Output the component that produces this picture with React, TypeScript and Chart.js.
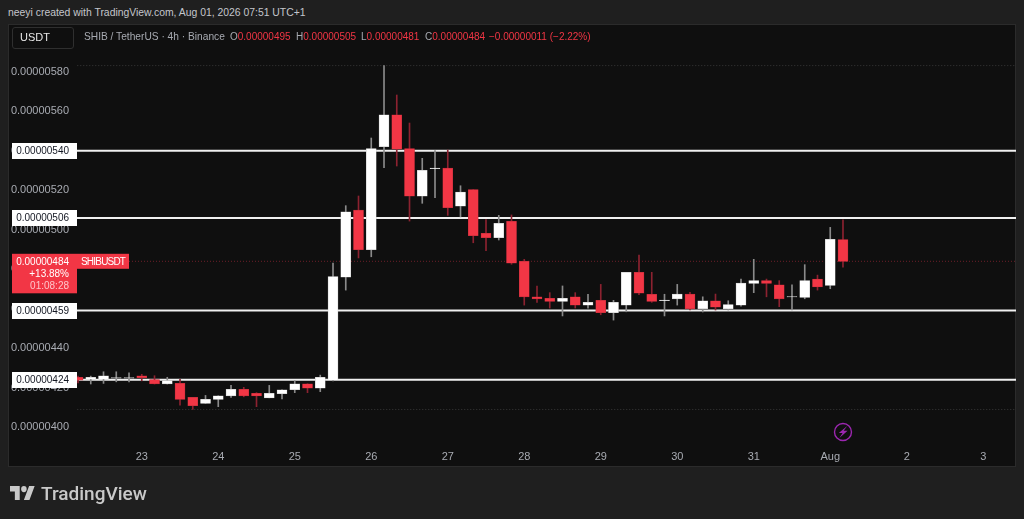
import React, { useEffect, useRef } from "react";
import { Chart, registerables } from "chart.js";

Chart.register(...registerables);

// all prices are in units of 1e-8 USDT
const opens = [425.2,424.2,424.2,424.7,424.7,426,424,421.8,422.1,415,412,414,415.7,419.1,417.1,414.8,416.9,418.9,421.9,419.7,423.8,476,510,489.9,542.1,558.2,541.1,517,530.9,531.3,511.9,520.3,498.2,496,504.3,484,466,465.2,463.7,466,461.7,464.2,457.9,461.7,478.4,467.3,464,464.9,467.4,460,464,459.8,461.7,472.8,474.2,472.1,465.9,465.7,475,471.8,495];
const highs = [425.8,425.8,428,428,427.4,426.7,426,425.2,424.2,415,416,415.8,421.1,420.1,417.4,421.1,418.9,423.4,421.9,426.3,483.1,512.2,517.1,546.5,583.2,568.3,554.1,536.2,540.1,540.4,522.3,520.3,505.1,507.3,507.5,485,471.5,468.1,471.5,468.1,467.3,472.3,464.2,478.4,487.2,478.4,467.3,472.3,468.3,466,467.4,464,475,485,475,474.2,472.1,482.3,477,501.2,505];
const lows = [422.3,421.8,422.1,422.9,422.9,423.4,421.8,421.8,411.1,408.9,412,410.3,415,415.3,410.3,414.8,414.2,417.4,417.4,417.9,423.3,469.4,485.7,486.3,531.5,532.3,504.4,513.4,516.2,507.3,506.5,493.4,489.4,494.8,482.5,461.8,463.2,460.3,456.3,460.3,460.3,456.9,454.2,458.4,467.1,463.2,456.3,461.8,459.3,458.3,459.3,459.3,461.3,468.1,466,461,459.3,465,469.4,470.1,481];
const closes = [423.8,425.2,426,425,425,425,421.8,423.5,414,410.8,414,415.8,419.1,415.7,415.8,417.1,418.9,421.9,419.7,425.2,476.2,509.1,489.9,541.1,558.2,540.9,517,530.1,531.3,511.2,519.1,497,496,503.3,483,465.9,464.9,463.7,465.2,461.8,463.2,457.9,463.2,478.4,467.8,463.7,464.4,467.4,459.8,464,460.8,462,473,474.2,472.8,464.9,466.1,474.2,471,495.2,484];

const priceTicks = [400,420,440,460,480,500,520,540,560,580];
const dayTicks = [5,11,17,23,29,35,41,47,53,59,65,71];
const dayLabels = ["23","24","25","26","27","28","29","30","31","Aug","2","3"];
const levels = [540,506,459,424];
const highLevel = 583.2;
const lowLevel = 408.9;
const lastPrice = 484;
const lastTagLines = ["0.00000484","+13.88%","01:08:28"];
const symbolTag = "SHIBUSDT";
const legendName = "SHIB / TetherUS · 4h · Binance";
const legendOHLC = [["O","0.00000495"],["H","0.00000505"],["L","0.00000481"],["C","0.00000484"]];
const legendChange = "−0.00000011 (−2.22%)";
const createdBy = "neeyi created with TradingView.com, Aug 01, 2026 07:51 UTC+1";

const FONT = '"Liberation Sans", Arial, sans-serif';
const RED = "#f23645";
const fmt = (v: number) => (v / 1e8).toFixed(8);

const overlay = {
  id: "overlay",
  afterDraw(chart: any) {
    const { ctx, scales } = chart;
    const yS = scales.y;
    ctx.save();
    ctx.textBaseline = "middle";
    ctx.font = `10px ${FONT}`;
    for (const l of levels) {
      const y = Math.round(yS.getPixelForValue(l));
      ctx.fillStyle = "#ffffff";
      ctx.fillRect(12, y - 8, 65, 16);
      ctx.fillStyle = "#131722";
      ctx.textAlign = "right";
      ctx.fillText(fmt(l), 69, y + 0.5);
    }
    const py = yS.getPixelForValue(lastPrice);
    ctx.fillStyle = RED;
    ctx.fillRect(12, py - 7.5, 65, 39.5);
    ctx.fillRect(77, py - 7.5, 52, 15);
    ctx.textAlign = "right";
    ctx.fillStyle = "#ffffff";
    ctx.fillText(lastTagLines[0], 69, py + 0.5);
    ctx.fillText(lastTagLines[1], 69, py + 12.5);
    ctx.fillStyle = "#ffc4c9";
    ctx.fillText(lastTagLines[2], 69, py + 25);
    ctx.fillStyle = "#ffffff";
    ctx.textAlign = "left";
    ctx.font = `10px ${FONT}`;
    (ctx as any).letterSpacing = "-0.8px";
    ctx.fillText(symbolTag, 81, py + 0.5);
    (ctx as any).letterSpacing = "0px";
    // purple lightning marker under the last candle
    const mx = scales.x.getPixelForValue(opens.length - 1);
    const my = 432;
    ctx.strokeStyle = "#9c27b0";
    ctx.lineWidth = 1.4;
    ctx.beginPath();
    ctx.arc(mx, my, 8.5, 0, Math.PI * 2);
    ctx.stroke();
    ctx.fillStyle = "#9c27b0";
    ctx.beginPath();
    ctx.moveTo(mx + 4.2, my - 6);
    ctx.lineTo(mx - 4.2, my + 1);
    ctx.lineTo(mx - 0.4, my + 1);
    ctx.lineTo(mx - 3.6, my + 6);
    ctx.lineTo(mx + 4.6, my - 1.2);
    ctx.lineTo(mx + 0.7, my - 1.2);
    ctx.closePath();
    ctx.fill();
    ctx.restore();
  },
};

export default function App() {
  const ref = useRef<HTMLCanvasElement>(null);
  useEffect(() => {
    document.body.style.margin = "0";
    document.body.style.background = "#1f1f1f";
    const idx = opens.map((_, i) => i);
    const isUp = (i: number) => closes[i] >= opens[i];
    const hline = (v: number, color: string, width: number, dash: number[], from = -1) => ({
      type: "line" as const,
      data: [{ x: from, y: v }, { x: 74, y: v }],
      borderColor: color,
      borderWidth: width,
      borderDash: dash,
      pointRadius: 0,
      order: 5,
    });
    const chart = new Chart(ref.current!, {
      type: "bar",
      data: {
        datasets: [
          ...levels.map((l) => hline(l, "#f0f0f0", 2, [])),
          hline(highLevel, "#3a3a3a", 1, [1, 2]),
          hline(lowLevel, "#3a3a3a", 1, [1, 2]),
          hline(lastPrice, "#6e1f2a", 1, [1, 2], 4),
          {
            type: "bar" as const,
            data: idx.map((i) => ({ x: i, y: [lows[i], highs[i]] })),
            backgroundColor: idx.map((i) => (isUp(i) ? "#8a8a8a" : "#8c2230")),
            maxBarThickness: 1,
            grouped: false,
            categoryPercentage: 1,
            barPercentage: 1,
            order: 2,
          },
          {
            type: "bar" as const,
            data: idx.map((i) => ({ x: i, y: [opens[i], closes[i]] })),
            backgroundColor: idx.map((i) => (isUp(i) ? "#ffffff" : RED)),
            borderColor: idx.map((i) => (isUp(i) ? "#bdbdbd" : "#b52c39")),
            borderWidth: 0.5,
            borderSkipped: false,
            maxBarThickness: 10,
            grouped: false,
            categoryPercentage: 1,
            barPercentage: 1,
            order: 1,
          },
        ] as any,
      },
      options: {
        responsive: false,
        animation: false,
        devicePixelRatio: 1,
        layout: { padding: { top: 24, right: 8, bottom: 52, left: 0 }, autoPadding: false },
        plugins: { legend: { display: false }, tooltip: { enabled: false } },
        scales: {
          x: {
            type: "linear",
            offset: false,
            min: -0.08,
            max: 73.57,
            grid: { display: false, drawTicks: false },
            border: { display: false },
            afterBuildTicks: (s: any) => { s.ticks = dayTicks.map((v) => ({ value: v })); },
            afterFit: (s: any) => { s.height = 26; },
            ticks: {
              autoSkip: false,
              maxRotation: 0,
              color: "#a8abb2",
              padding: 9,
              font: { family: FONT, size: 11 },
              callback: (v: any) => dayLabels[dayTicks.indexOf(Number(v))] ?? "",
            },
          },
          y: {
            type: "linear",
            min: 392.9,
            max: 604.3,
            grid: { display: false, drawTicks: false },
            border: { display: false },
            afterBuildTicks: (s: any) => { s.ticks = priceTicks.map((v) => ({ value: v })); },
            afterFit: (s: any) => { s.width = 77; },
            ticks: {
              autoSkip: false,
              color: "#a8abb2",
              padding: 8,
              font: { family: FONT, size: 11 },
              callback: (v: any) => fmt(Number(v)),
            },
          },
        },
      },
      plugins: [overlay],
    } as any);
    return () => chart.destroy();
  }, []);

  const abs = (s: React.CSSProperties): React.CSSProperties => ({
    position: "absolute", whiteSpace: "nowrap", fontFamily: FONT, lineHeight: 1, ...s,
  });

  return (
    <div style={{ position: "relative", width: 1024, height: 519, background: "#1f1f1f", overflow: "hidden" }}>
      <div style={{ position: "absolute", left: 8, top: 24, width: 1008, height: 443, background: "#0f0f0f", boxSizing: "border-box", border: "1px solid #2b2b2b" }} />
      <div style={abs({ left: 8, top: 8, fontSize: 10.4, color: "#c4c6cc" })}>{createdBy}</div>
      <canvas ref={ref} width={1024} height={519} style={{ position: "absolute", left: 0, top: 0, width: 1024, height: 519 }} />
      <div style={{ position: "absolute", left: 12, top: 27, width: 62, height: 22, boxSizing: "border-box", border: "1px solid #2f2f2f", borderRadius: 3, background: "#0f0f0f" }} />
      <div style={abs({ left: 20, top: 32, fontSize: 11, color: "#e6e6e6" })}>USDT</div>
      <div style={abs({ left: 84, top: 32, fontSize: 10.2, color: "#a8abb2" })}>{legendName}</div>
      {legendOHLC.map(([k, v], i) => (
        <div key={k} style={abs({ left: [230, 296, 361, 425][i], top: 32, fontSize: 10, color: "#a8abb2" })}>
          {k}<span style={{ color: RED }}>{v}</span>
        </div>
      ))}
      <div style={abs({ left: 489, top: 32, fontSize: 10, color: RED })}>{legendChange}</div>
      <svg style={{ position: "absolute", left: 10, top: 486 }} width="25" height="14" viewBox="0 4 36 18" preserveAspectRatio="none">
        <path d="M14 22H7V11H0V4h14v18zM28 22h-8l7.5-18h8L28 22z" fill="#c9c9c9" />
        <circle cx="20" cy="8" r="4" fill="#c9c9c9" />
      </svg>
      <div style={abs({ left: 41, top: 484, fontSize: 19, fontWeight: 500, color: "#c9c9c9", fontFamily: 'Roboto, sans-serif' })}>TradingView</div>
    </div>
  );
}
